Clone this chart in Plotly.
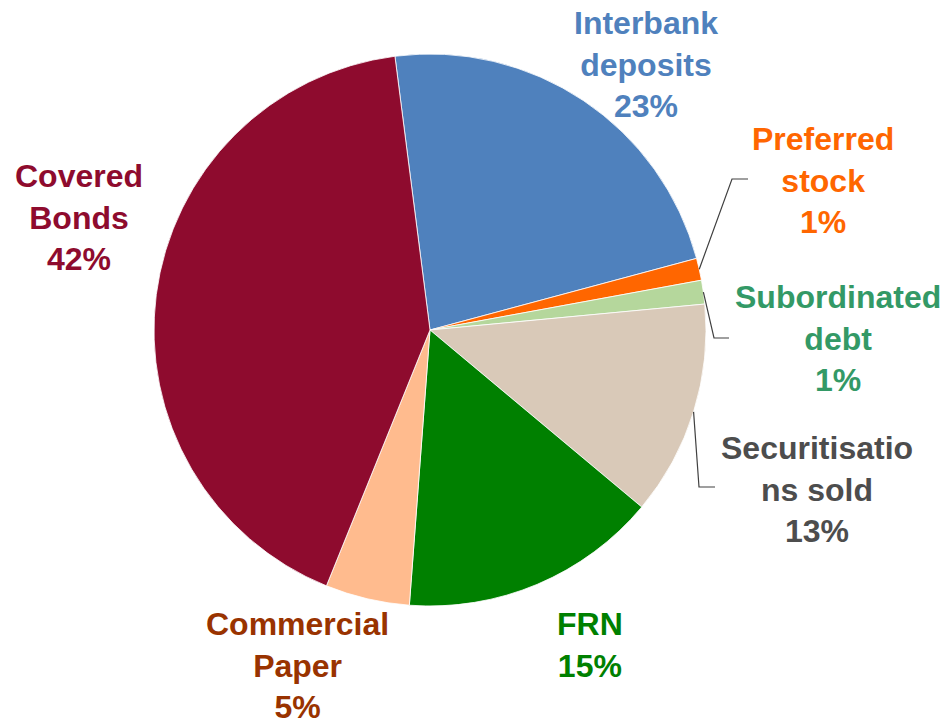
import math
import plotly.graph_objects as go

# Funding mix, clockwise from the top
categories = ["Interbank deposits", "Preferred stock", "Subordinated debt",
              "Securitisations sold", "FRN", "Commercial Paper", "Covered Bonds"]
label_lines = ["Interbank<br>deposits", "Preferred<br>stock", "Subordinated<br>debt",
               "Securitisatio<br>ns sold", "FRN", "Commercial<br>Paper", "Covered<br>Bonds"]
shares = [22.85, 1.29, 1.39, 12.58, 15.11, 4.93, 41.85]

slice_colors = ["#4F81BD", "#FF6600", "#B5D79C", "#D9C9B8", "#008000", "#FFBB8E", "#8E0B2E"]
text_colors = ["#4F81BD", "#FF6600", "#339966", "#4D4D4D", "#008000", "#993300", "#8E0B2E"]

W, H = 946, 724
CX, CY, R = 430, 330, 276
ROTATION = -7.3

# label block centres (pixels)
label_pos = [(646, 65), (823, 180), (838, 339), (817, 489), (590, 645), (297, 665), (79, 217)]

fig = go.Figure(go.Pie(
    labels=categories,
    values=shares,
    sort=False,
    direction="clockwise",
    rotation=ROTATION,
    textinfo="none",
    hoverinfo="label+percent",
    marker=dict(colors=slice_colors, line=dict(color="white", width=0.8)),
    domain=dict(x=[(CX - R) / W, (CX + R) / W], y=[1 - (CY + R) / H, 1 - (CY - R) / H]),
    showlegend=False,
))

total = sum(shares)
for name, val, col, (lx, ly) in zip(label_lines, shares, text_colors, label_pos):
    fig.add_annotation(
        x=lx / W, y=1 - ly / H, xref="paper", yref="paper",
        text=f"{name}<br>{round(val / total * 100)}%",
        showarrow=False, xanchor="center", yanchor="middle", align="center",
        font=dict(family="Liberation Sans, Arial, sans-serif", size=32, color=col, weight="bold"),
    )


def edge_point(idx, frac=0.5):
    """Point on the rim at a fraction through slice idx."""
    start = sum(shares[:idx])
    ang = math.radians(ROTATION + (start + frac * shares[idx]) / total * 360)
    return CX + R * math.sin(ang), CY - R * math.cos(ang)


# leader lines: slice index -> (fraction along slice, elbow and end in pixels)
leaders = {1: (0.5, [(732, 179), (748, 179)]),
           2: (0.5, [(714, 338), (729, 338)]),
           3: (0.5, [(699, 487), (715, 487)])}
for idx, (frac, pts) in leaders.items():
    x0, y0 = edge_point(idx, frac)
    path_pts = [(x0, y0)] + pts
    path = "M " + " L ".join(f"{px / W},{1 - py / H}" for px, py in path_pts)
    fig.add_shape(type="path", path=path, xref="paper", yref="paper",
                  line=dict(color="#404040", width=1.2))

fig.update_layout(
    width=W, height=H,
    margin=dict(l=0, r=0, t=0, b=0),
    paper_bgcolor="white", plot_bgcolor="white",
)

fig.write_html("out.html")
